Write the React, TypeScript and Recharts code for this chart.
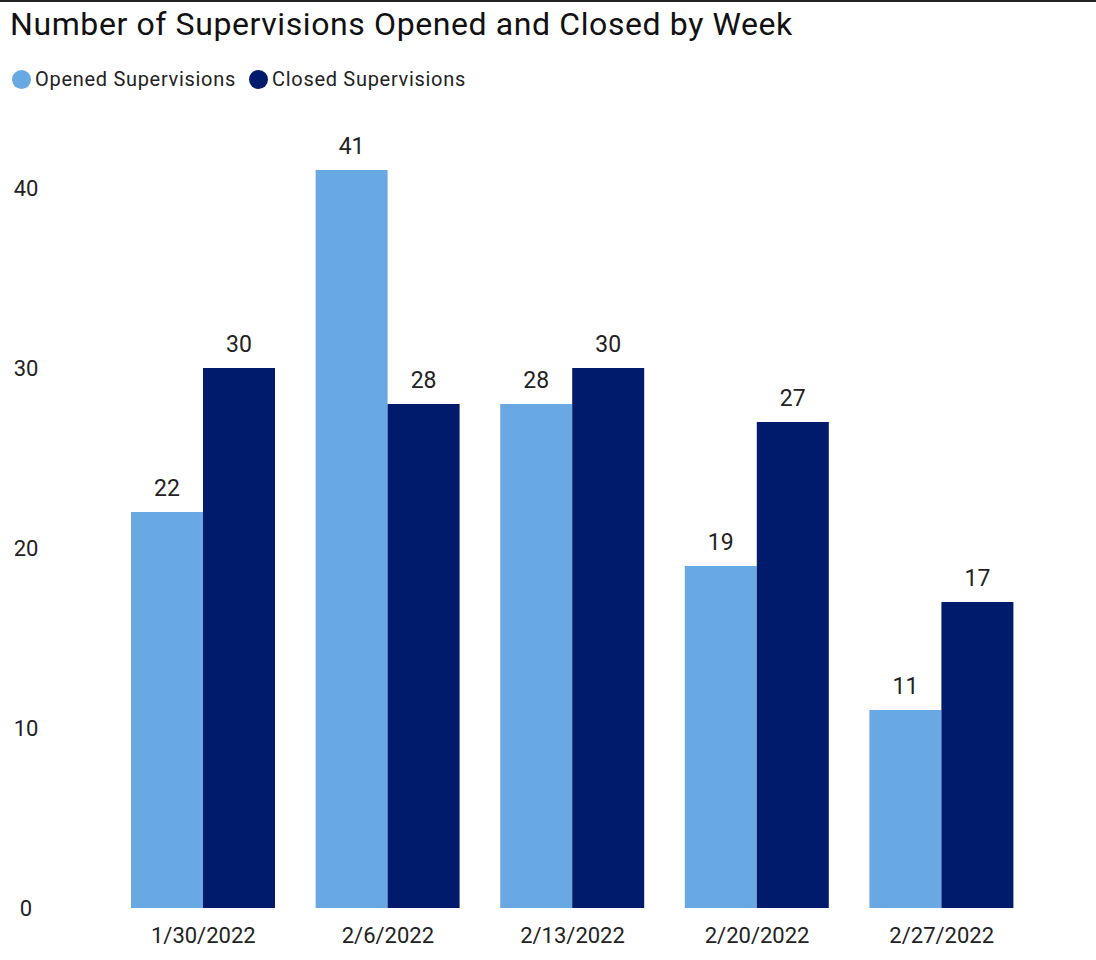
import { BarChart, Bar, XAxis, YAxis, LabelList } from 'recharts';

const weeks = ['1/30/2022', '2/6/2022', '2/13/2022', '2/20/2022', '2/27/2022'];
const opened = [22, 41, 28, 19, 11];
const closed = [30, 28, 30, 27, 17];
const yTicks = [0, 10, 20, 30, 40];

const OPENED_COLOR = '#69A9E3';
const CLOSED_COLOR = '#001A6C';
const FONT = 'Roboto, "DejaVu Sans", sans-serif';

const data = weeks.map((week, i) => ({
  week,
  opened: opened[i],
  closed: closed[i],
}));

const legendItems = [
  { label: 'Opened Supervisions', color: OPENED_COLOR },
  { label: 'Closed Supervisions', color: CLOSED_COLOR },
];

function ChartLegend() {
  return (
    <div
      style={{
        position: 'absolute',
        left: 12,
        top: 65,
        display: 'flex',
        alignItems: 'center',
        fontFamily: FONT,
        fontSize: 20,
        letterSpacing: 0.7,
        color: '#222',
        whiteSpace: 'nowrap',
      }}
    >
      {legendItems.map((item) => (
        <div key={item.label} style={{ display: 'flex', alignItems: 'center', marginRight: 13 }}>
          <span
            style={{
              width: 19,
              height: 19,
              borderRadius: '50%',
              background: item.color,
              display: 'inline-block',
              marginRight: 4,
            }}
          />
          <span>{item.label}</span>
        </div>
      ))}
    </div>
  );
}

function YTick({ y, payload }: any) {
  return (
    <text x={26} y={y} dy={8} textAnchor="middle" fontFamily={FONT} fontSize={22} fill="#222">
      {payload.value}
    </text>
  );
}

function XTick({ x, y, payload }: any) {
  return (
    <text x={x} y={y} dy={27} textAnchor="middle" fontFamily={FONT} fontSize={22} fill="#222">
      {payload.value}
    </text>
  );
}

export default function App() {
  return (
    <div
      style={{
        position: 'absolute',
        left: 0,
        top: 0,
        width: 1096,
        height: 960,
        background: '#fff',
        borderTop: '2px solid #222',
        boxSizing: 'border-box',
        overflow: 'hidden',
      }}
    >
      <div
        style={{
          position: 'absolute',
          left: 10,
          top: 3,
          fontFamily: FONT,
          fontSize: 32,
          letterSpacing: 0.6,
          color: '#111',
          whiteSpace: 'nowrap',
        }}
      >
        Number of Supervisions Opened and Closed by Week
      </div>
      <ChartLegend />
      <div style={{ position: 'absolute', top: -2, left: 0 }}>
        <BarChart
          width={1096}
          height={960}
          data={data}
          margin={{ top: 98, right: 62, left: 0, bottom: 0 }}
          barCategoryGap={20}
          barGap={0}
        >
          <XAxis
            dataKey="week"
            axisLine={false}
            tickLine={false}
            height={52}
            tick={<XTick />}
            interval={0}
          />
          <YAxis
            domain={[0, 45]}
            ticks={yTicks}
            axisLine={false}
            tickLine={false}
            width={111}
            tick={<YTick />}
          />
          <Bar dataKey="opened" name="Opened Supervisions" fill={OPENED_COLOR} isAnimationActive={false}>
            <LabelList dataKey="opened" position="top" offset={16} fontFamily={FONT} fontSize={23} fill="#222" />
          </Bar>
          <Bar dataKey="closed" name="Closed Supervisions" fill={CLOSED_COLOR} isAnimationActive={false}>
            <LabelList dataKey="closed" position="top" offset={16} fontFamily={FONT} fontSize={23} fill="#222" />
          </Bar>
        </BarChart>
      </div>
    </div>
  );
}
